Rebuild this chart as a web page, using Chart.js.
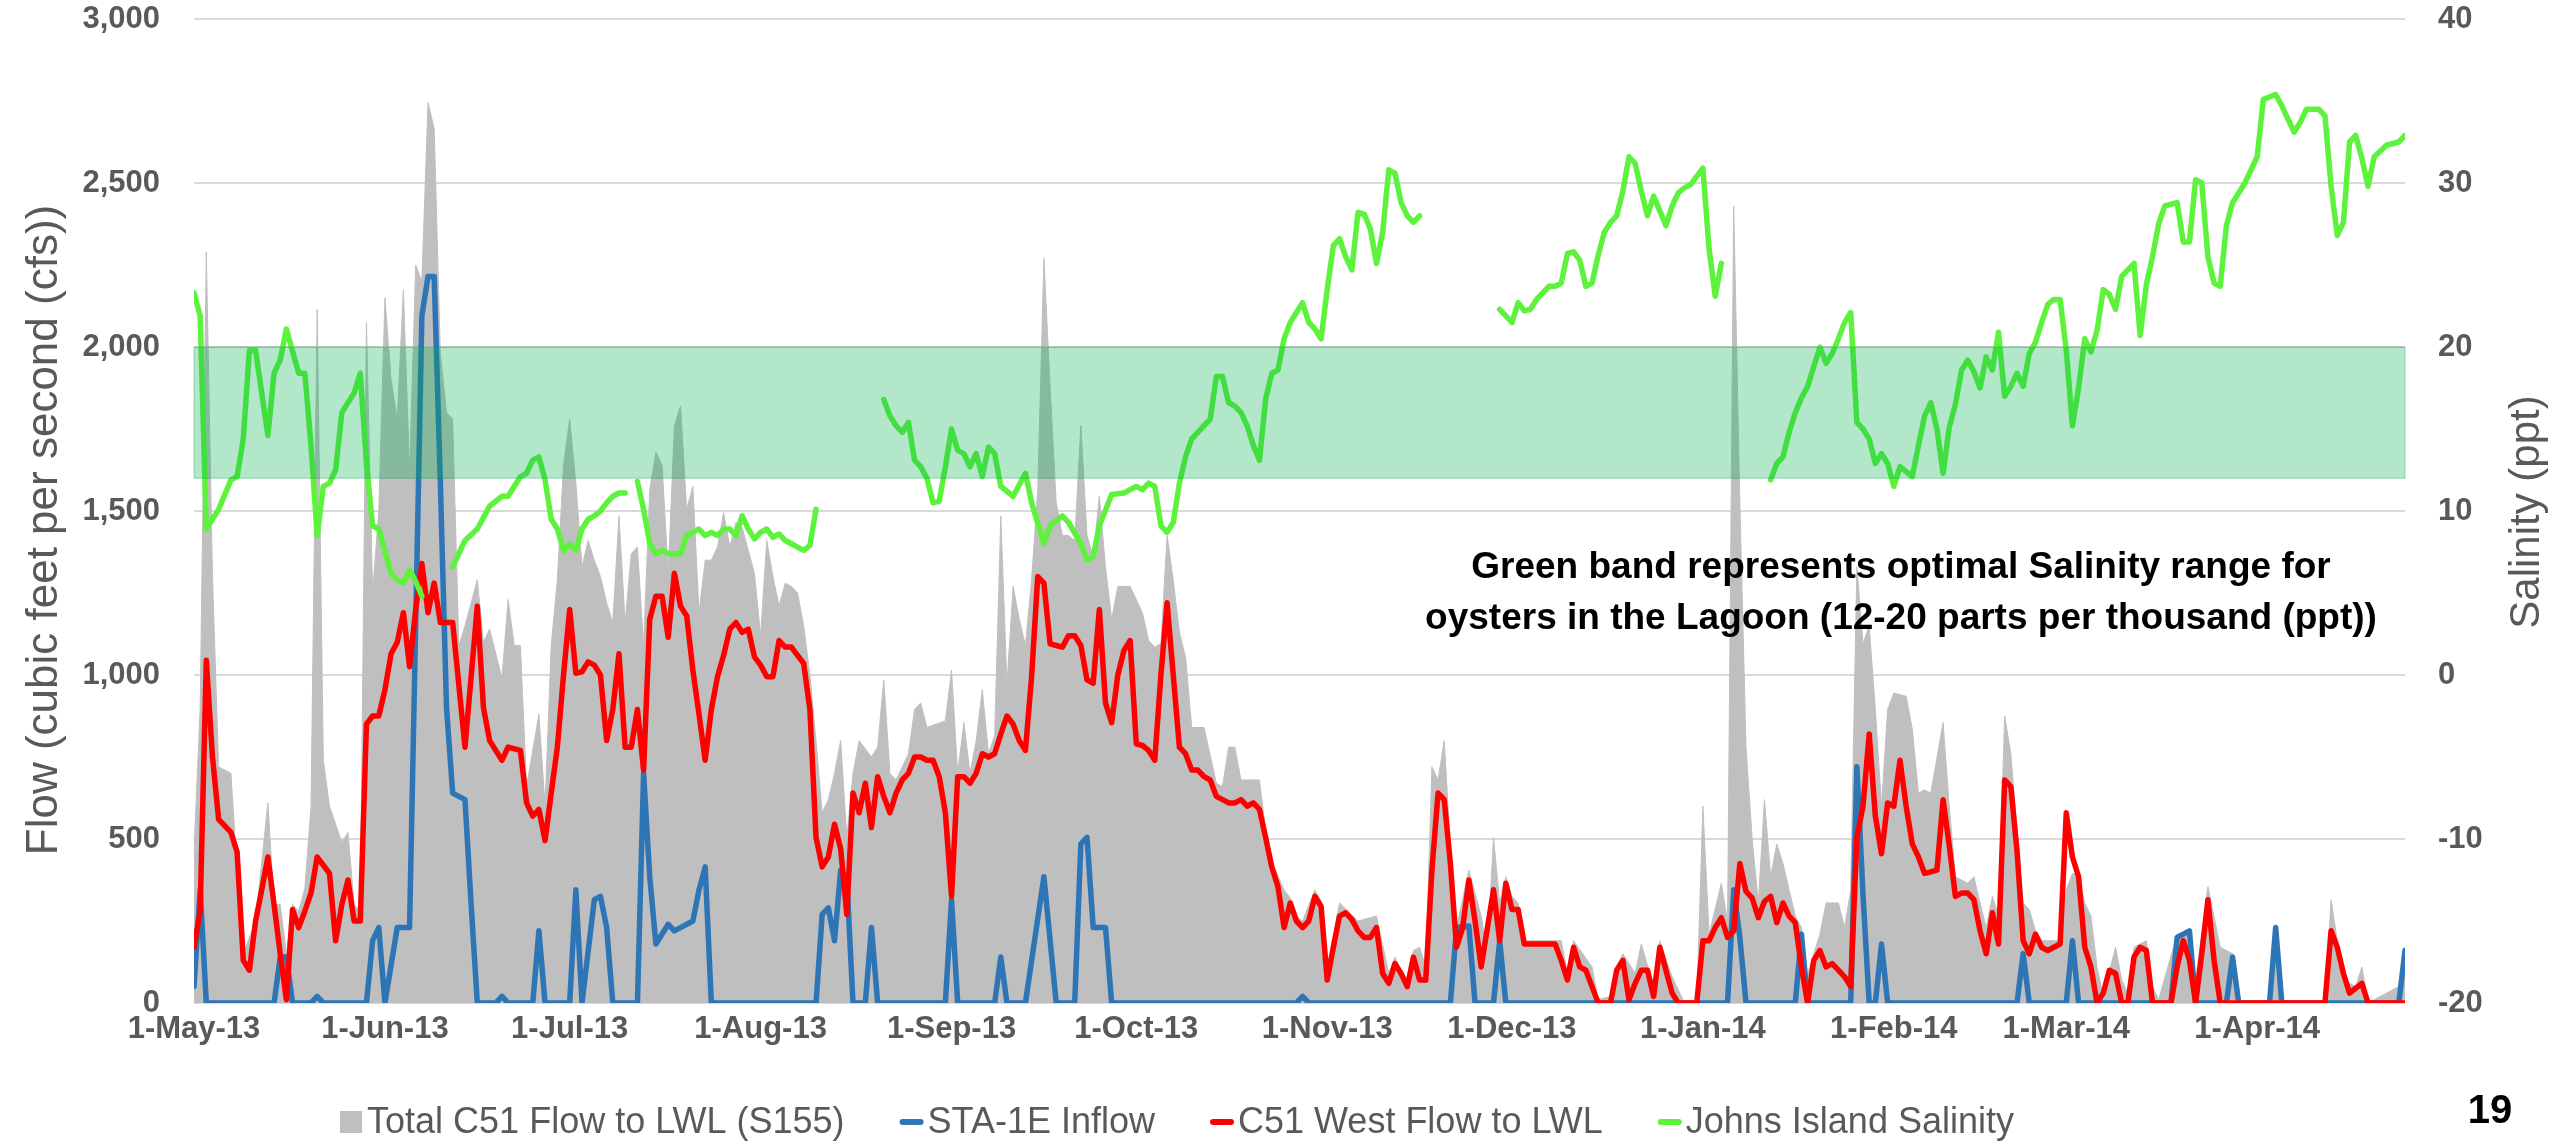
<!DOCTYPE html>
<html>
<head>
<meta charset="utf-8">
<script src="https://cdn.jsdelivr.net/npm/chart.js@4.4.1/dist/chart.umd.min.js"></script>
<style>
  html, body { margin: 0; padding: 0; background: #fff; }
  #wrap { width: 2554px; height: 1144px; }
</style>
</head>
<body>
<div id="wrap"><canvas id="chart" width="2554" height="1144"></canvas></div>
<script>
// day 0 = 1-May-2013
const monthDays = [0, 31, 61, 92, 123, 153, 184, 214, 245, 276, 304, 335];
const monthLabels = ['1-May-13', '1-Jun-13', '1-Jul-13', '1-Aug-13', '1-Sep-13', '1-Oct-13',
  '1-Nov-13', '1-Dec-13', '1-Jan-14', '1-Feb-14', '1-Mar-14', '1-Apr-14'];
const lastDay = 359;

// optimal oyster salinity (ppt)
const bandLow = 12;
const bandHigh = 20;

// [day, cfs]
const totalFlow = [[0,460],[1,900],[2,2290],[3,1300],[4,720],[6,700],[7,400],[8,150],[10,250],[12,610],[13,300],[14,300],[15,150],[16,300],[17,280],[18,350],[19,600],[20,2115],[21,740],[22,600],[24,490],[25,520],[26,300],[27,280],[28,2075],[29,1250],[30,1500],[31,2150],[32,1900],[33,1780],[34,2175],[35,1620],[36,2250],[37,2200],[38,2745],[39,2665],[40,1980],[41,1800],[42,1780],[43,1090],[44,1150],[46,1290],[47,1100],[48,1140],[50,990],[51,1230],[52,1090],[53,1090],[54,660],[56,880],[57,600],[58,1090],[59,1290],[60,1640],
  [61,1780],[62,1585],[63,1330],[64,1410],[65,1350],[66,1300],[67,1220],[68,1160],[69,1485],[70,1160],[71,1370],[72,1390],[73,1090],[74,1565],[75,1680],[76,1640],[77,1310],[78,1760],[79,1820],[80,1505],[81,1575],[82,1190],[83,1350],[84,1350],[85,1390],[86,1495],[87,1390],[88,1465],[89,1450],[90,1380],[91,1310],[92,1120],[93,1410],[94,1300],[95,1210],[96,1280],[97,1270],[98,1250],[99,1150],[100,1000],[101,800],[102,580],[103,620],[104,700],[105,800],[106,505],[107,700],[108,800],[110,750],[111,780],[112,985],[113,700],[114,680],[116,760],[117,895],[118,915],[119,840],
  [122,860],[123,1015],[124,700],[125,855],[126,700],[127,800],[128,955],[129,760],[130,815],[131,1485],[132,970],[133,1270],[134,1170],[135,1090],[136,1290],[137,1565],[138,2270],[139,1880],[140,1525],[141,1425],[142,1425],[143,1410],[144,1760],[145,1425],[146,1360],[147,1545],[148,1330],[149,1170],[150,1270],[152,1270],[154,1190],[155,1105],[156,1085],[157,1095],[158,1425],[159,1290],[160,1130],[161,1055],[162,840],[164,840],[166,670],[167,660],[168,780],[169,780],[170,680],[173,680],[174,525],[175,430],[177,345],[178,320],[179,265],[180,250],
  [182,345],[183,310],[184,110],[186,305],[189,250],[192,265],[194,90],[195,140],[197,60],[198,160],[199,170],[200,110],[201,720],[202,680],[203,800],[204,480],[205,230],[207,405],[209,265],[210,150],[211,505],[212,305],[213,385],[214,325],[215,305],[216,190],[222,190],[223,90],[224,190],[227,110],[228,10],[230,20],[231,110],[232,150],[234,90],[235,180],[237,50],[238,190],[240,80],[242,0],[244,0],
  [245,600],[246,210],[248,365],[249,245],[250,2430],[251,1525],[252,780],[253,500],[254,305],[255,620],[256,385],[257,485],[258,425],[259,345],[260,265],[261,230],[262,90],[264,210],[265,305],[267,305],[268,230],[269,345],[270,1330],[271,1095],[272,1150],[273,895],[274,600],[275,895],[276,945],[278,935],[279,835],[280,640],[281,650],[282,640],[284,855],[285,600],[286,385],[288,365],[289,385],[290,305],[291,230],[292,325],[293,265],[294,875],[295,760],[296,525],[297,305],[298,285],[299,220],[300,190],
  [303,190],[304,345],[305,395],[306,390],[307,305],[308,265],[309,110],[310,20],[312,170],[313,70],[314,30],[315,170],[317,190],[318,50],[319,10],[322,210],[324,220],[325,70],[327,355],[329,170],[331,150],[332,0],[337,0],[338,230],[339,0],[346,0],[347,315],[348,190],[349,70],[351,50],[352,110],[353,0],[358,50],[359,170]];

const sta1eFlow = [[0,50],[1,345],[2,0],[13,0],[14,140],[15,140],[16,0],[19,0],[20,20],[21,0],[28,0],[29,190],[30,230],[31,0],[33,230],[35,230],[37,2095],[38,2215],[39,2215],[40,1585],[41,900],[42,640],[44,620],[45,300],[46,0],[49,0],[50,20],[51,0],[55,0],[56,220],[57,0],
  [61,0],[62,345],[63,0],[65,315],[66,325],[67,230],[68,0],[72,0],[73,700],[74,385],[75,180],[77,240],[78,220],[79,230],[81,250],[82,345],[83,415],[84,0],[101,0],[102,270],[103,290],[104,190],[105,405],[106,380],[107,0],[109,0],[110,230],[111,0],
  [122,0],[123,315],[124,0],[130,0],[131,140],[132,0],[135,0],[138,385],[140,0],[143,0],[144,485],[145,505],[146,230],[148,230],[149,0],[179,0],[180,20],[181,0],
  [204,0],[205,230],[207,235],[208,0],[211,0],[212,190],[213,0],[249,0],[250,345],[251,200],[252,0],[260,0],[261,210],[262,0],[269,0],[270,720],[271,330],[272,0],[273,0],[274,180],[275,0],
  [296,0],[297,150],[298,0],[304,0],[305,190],[306,0],[321,0],[322,200],[324,220],[325,0],[330,0],[331,140],[332,0],[337,0],[338,230],[339,0],[358,0],[359,160]];

const westFlow = [[0,170],[1,280],[2,1045],[3,750],[4,560],[5,540],[6,520],[7,460],[8,130],[9,100],[10,250],[11,345],[12,445],[13,300],[14,150],[15,10],[16,285],[17,230],[18,280],[19,335],[20,445],[21,420],[22,395],[23,190],[24,300],[25,375],[26,250],[27,250],[28,850],[29,875],[30,875],[31,955],[32,1065],[33,1100],[34,1190],[35,1025],[36,1200],[37,1340],[38,1190],[39,1280],[40,1160],[42,1160],[44,780],[46,1210],[47,900],[48,800],[50,740],[51,780],[53,770],[54,610],[55,570],[56,590],[57,495],[58,640],[59,780],[60,1000],
  [61,1200],[62,1005],[63,1010],[64,1040],[65,1030],[66,1000],[67,800],[68,895],[69,1065],[70,780],[71,780],[72,895],[73,710],[74,1170],[75,1240],[76,1240],[77,1115],[78,1310],[79,1210],[80,1180],[81,1015],[82,880],[83,740],[84,895],[85,995],[86,1060],[87,1140],[88,1160],[89,1130],[90,1140],[91,1055],[92,1030],[93,995],[94,995],[95,1105],[96,1085],[97,1085],[98,1060],[99,1035],[100,895],[101,505],[102,415],[103,445],[104,545],[105,470],[106,270],[107,640],[108,580],[109,670],[110,535],[111,690],[112,630],[113,580],[114,640],[115,680],[116,700],[117,750],[118,750],[119,740],[120,740],
  [121,690],[122,580],[123,325],[124,690],[125,690],[126,670],[127,700],[128,760],[129,750],[130,760],[131,820],[132,875],[133,850],[134,800],[135,770],[136,995],[137,1300],[138,1280],[139,1095],[140,1090],[141,1085],[142,1120],[143,1120],[144,1090],[145,985],[146,975],[147,1200],[148,915],[149,855],[150,1000],[151,1075],[152,1105],[153,790],[154,785],[155,770],[156,740],[157,1000],[158,1220],[159,1000],[160,780],[161,760],[162,710],[163,710],[164,690],[165,680],[166,630],[167,620],[168,610],[169,610],[170,620],[171,600],[172,610],[173,590],[174,505],[175,415],[176,355],[177,230],[178,305],[179,250],[180,230],
  [181,250],[182,325],[183,295],[184,70],[185,170],[186,265],[187,275],[188,255],[189,220],[190,200],[191,200],[192,230],[193,90],[194,60],[195,120],[196,90],[197,50],[198,140],[199,70],[200,70],[201,405],[202,640],[203,620],[204,425],[205,170],[206,230],[207,375],[208,250],[209,110],[211,345],[212,190],[213,365],[214,285],[215,285],[216,180],[221,180],[222,130],[223,70],[224,170],[225,110],[226,100],[227,50],[228,0],[230,0],[231,100],[232,130],[233,10],[234,60],[235,100],[236,100],[237,20],[238,170],[239,100],[240,30],
  [241,0],[244,0],[245,190],[246,190],[247,230],[248,260],[249,200],[250,220],[251,425],[252,340],[253,320],[254,260],[255,310],[256,325],[257,245],[258,305],[259,265],[260,245],[261,110],[262,0],[263,130],[264,160],[265,110],[266,120],[267,100],[268,80],[269,50],[270,505],[271,600],[272,820],[273,570],[274,455],[275,610],[276,600],[277,740],[278,600],[279,485],[280,445],[281,395],[282,400],[283,405],[284,620],[285,480],[286,325],[287,335],[288,335],[289,315],[290,220],[291,150],[292,275],[293,180],[294,680],[295,660],[296,465],[297,190],[298,150],[299,210],[300,170],
  [301,160],[302,170],[303,180],[304,580],[305,445],[306,385],[307,170],[308,110],[309,0],[310,30],[311,100],[312,90],[313,0],[314,0],[315,140],[316,170],[317,160],[318,0],[321,0],[322,110],[323,190],[324,130],[325,0],[326,150],[327,315],[328,130],[329,0],[346,0],[347,220],[348,170],[349,90],[350,30],[352,60],[353,0],[359,0]];

// [day, ppt]; null = no record
const salinity = [[0,23.3],[1,21.9],[2,8.9],[4,10.1],[6,11.9],[7,12.1],[8,14.4],[9,19.8],[10,19.8],[12,14.6],[13,18.4],[14,19.2],[15,21.1],[17,18.4],[18,18.4],[19,14],[20,8.5],[21,11.5],[22,11.7],[23,12.5],[24,16],[25,16.6],[26,17.2],[27,18.4],[28,12.9],[29,9.1],[30,8.9],[32,6.2],[33,5.8],[34,5.6],[35,6.4],[36,5.7],[37,4.8],[38,null],[42,6.6],[44,8.2],[46,8.9],[48,10.3],[50,10.9],[51,10.9],[53,12.1],[54,12.3],[55,13.1],[56,13.3],[57,11.9],[58,9.5],[59,8.9],[60,7.6],
  [61,8.0],[62,7.6],[63,8.9],[64,9.5],[65,9.7],[66,10],[67,10.5],[68,10.9],[69,11.1],[70,11.1],[71,null],[72,11.8],[73,10.1],[74,8.0],[75,7.4],[76,7.6],[77,7.4],[78,7.4],[79,7.4],[80,8.5],[81,8.7],[82,8.9],[83,8.5],[84,8.7],[85,8.5],[86,8.9],[87,8.9],[88,8.5],[89,9.7],[90,8.9],[91,8.3],[92,8.7],[93,8.9],[94,8.4],[95,8.6],[96,8.2],[97,8.0],[98,7.8],[99,7.6],[100,7.9],[101,10.1],[102,null],
  [112,16.8],[113,15.8],[114,15.2],[115,14.8],[116,15.4],[117,13.1],[118,12.7],[119,12.0],[120,10.5],[121,10.6],[122,12.7],[123,15],[124,13.7],[125,13.5],[126,12.7],[127,13.5],[128,12.1],[129,13.9],[130,13.5],[131,11.5],[133,10.9],[135,12.3],[136,10.5],[138,8],[139,9.1],[141,9.7],[142,9.3],[144,8],[145,7],[146,7.2],[147,9.1],[149,11],[151,11.1],[152,11.3],[153,11.5],[154,11.3],[155,11.7],[156,11.5],[157,9.1],[158,8.7],[159,9.3],[160,11.7],[161,13.3],[162,14.4],[163,14.8],[164,15.2],[165,15.6],[166,18.2],[167,18.2],[168,16.6],[169,16.4],[170,16],[171,15.2],[172,14],[173,13.1],[174,16.8],[175,18.4],[176,18.6],[177,20.5],[178,21.5],[179,22.1],[180,22.7],
  [181,21.5],[182,21.1],[183,20.5],[184,23.5],[185,26.2],[186,26.6],[187,25.5],[188,24.7],[189,28.2],[190,28.1],[191,27.2],[192,25.1],[193,27],[194,30.8],[195,30.6],[196,28.8],[197,28],[198,27.6],[199,28],[200,null],
  [212,22.3],[214,21.5],[215,22.7],[216,22.2],[217,22.3],[218,22.9],[220,23.7],[221,23.7],[222,23.9],[223,25.7],[224,25.8],[225,25.3],[226,23.7],[227,23.9],[228,25.6],[229,27],[230,27.6],[231,28],[232,29.5],[233,31.6],[234,31.2],[235,29.5],[236,28],[237,29.2],[238,28.3],[239,27.4],[240,28.6],[241,29.4],[242,29.7],[243,29.9],[244,30.4],[245,30.9],[246,26],[247,23.1],[248,25.1],[249,null],
  [256,11.9],[257,12.9],[258,13.3],[259,14.8],[260,16],[261,16.9],[262,17.6],[263,18.8],[264,20],[265,19],[266,19.6],[267,20.5],[268,21.5],[269,22.1],[270,15.4],[271,15],[272,14.4],[273,12.9],[274,13.5],[275,12.9],[276,11.5],[277,12.7],[278,12.4],[279,12.1],[280,14],[281,15.8],[282,16.6],[283,15],[284,12.3],[285,15.1],[286,16.5],[287,18.6],[288,19.2],[289,18.5],[290,17.5],[291,19.4],[292,18.6],[293,20.9],[294,17],[295,17.6],[296,18.4],[297,17.6],[298,19.6],[299,20.3],[300,21.5],
  [301,22.6],[302,22.9],[303,22.9],[304,19.8],[305,15.2],[306,17.5],[307,20.5],[308,19.7],[309,21],[310,23.5],[311,23.2],[312,22.3],[313,24.3],[314,24.7],[315,25.1],[316,20.7],[317,23.8],[318,25.5],[319,27.5],[320,28.6],[322,28.8],[323,26.4],[324,26.4],[325,30.2],[326,30],[327,25.5],[328,23.9],[329,23.7],[330,27.4],[331,28.8],[333,30],[335,31.6],[336,35.1],[338,35.4],[339,34.7],[341,33.1],[342,33.7],[343,34.5],[345,34.5],[346,34.1],[347,29.8],[348,26.8],[349,27.6],[350,32.5],[351,32.9],[352,31.5],[353,29.8],[354,31.6],[356,32.3],[358,32.5],[359,32.9]];

const toPoints = (arr) => arr.map(([x, y]) => ({ x, y }));

const FONT = "'Liberation Sans', Arial, sans-serif";
const GREY_TEXT = '#595959';

const seriesStyle = [
  { label: 'Total C51 Flow to LWL (S155)', color: '#bfbfbf', box: true },
  { label: 'STA-1E Inflow', color: '#2e75b6' },
  { label: 'C51 West Flow to LWL', color: '#ff0000' },
  { label: 'Johns Island Salinity', color: '#5df23b' },
];

// tick label padding would otherwise shrink the plot
const noScalePadding = (s) => {
  s.paddingTop = 0;
  s.paddingBottom = 0;
  s.paddingLeft = 0;
  s.paddingRight = 0;
};

const bandPlugin = {
  id: 'band',
  afterDatasetsDraw(chart) {
    const { ctx, chartArea } = chart;
    const y2 = chart.scales.y2;
    const top = y2.getPixelForValue(bandHigh);
    const bot = y2.getPixelForValue(bandLow);
    ctx.save();
    ctx.fillStyle = 'rgba(0,176,80,0.3)';
    ctx.fillRect(chartArea.left, top, chartArea.right - chartArea.left, bot - top);
    ctx.strokeStyle = 'rgba(0,150,70,0.35)';
    ctx.lineWidth = 1;
    ctx.strokeRect(chartArea.left, top, chartArea.right - chartArea.left, bot - top);
    ctx.restore();
  },
};

const textPlugin = {
  id: 'texts',
  afterDraw(chart) {
    const { ctx } = chart;
    ctx.save();
    // axis titles
    ctx.fillStyle = GREY_TEXT;
    ctx.textAlign = 'center';
    ctx.textBaseline = 'middle';
    ctx.font = `44px ${FONT}`;
    ctx.save();
    ctx.translate(45, 530);
    ctx.rotate(-Math.PI / 2);
    ctx.fillText('Flow (cubic feet per second (cfs))', 0, 0);
    ctx.restore();
    ctx.font = `42px ${FONT}`;
    ctx.save();
    ctx.translate(2527, 512);
    ctx.rotate(-Math.PI / 2);
    ctx.fillText('Salinity (ppt)', 0, 0);
    ctx.restore();

    // note
    ctx.fillStyle = '#000';
    ctx.font = `bold 37px ${FONT}`;
    ctx.fillText('Green band represents optimal Salinity range for', 1901, 568);
    ctx.fillText('oysters in the Lagoon (12-20 parts per thousand (ppt))', 1901, 619);

    // page number
    ctx.font = `bold 40px ${FONT}`;
    ctx.fillText('19', 2490, 1112);

    // legend
    ctx.font = `36px ${FONT}`;
    ctx.textAlign = 'left';
    const gap = 56, sym = 22, symGap = 5;
    const widths = seriesStyle.map(s => sym + symGap + ctx.measureText(s.label).width);
    const total = widths.reduce((a, b) => a + b, 0) + gap * (widths.length - 1);
    let x = 1177 - total / 2;
    const ly = 1122;
    seriesStyle.forEach((s, i) => {
      if (s.box) {
        ctx.fillStyle = s.color;
        ctx.fillRect(x, ly - 11, sym, sym);
      } else {
        ctx.strokeStyle = s.color;
        ctx.lineWidth = 6;
        ctx.lineCap = 'round';
        ctx.beginPath();
        ctx.moveTo(x + 2, ly);
        ctx.lineTo(x + sym - 2, ly);
        ctx.stroke();
      }
      ctx.fillStyle = GREY_TEXT;
      ctx.fillText(s.label, x + sym + symGap, ly + 1);
      x += widths[i] + gap;
    });
    ctx.restore();
  },
};

const lineDefaults = {
  type: 'line',
  pointRadius: 0,
  tension: 0,
  borderWidth: 5.5,
  borderJoinStyle: 'round',
  borderCapStyle: 'round',
  fill: false,
  spanGaps: false,
};

new Chart(document.getElementById('chart'), {
  type: 'line',
  data: {
    datasets: [
      { ...lineDefaults, label: seriesStyle[0].label, data: toPoints(totalFlow), yAxisID: 'y',
        fill: 'origin', backgroundColor: '#bfbfbf', borderColor: '#bfbfbf', borderWidth: 1, order: 4 },
      { ...lineDefaults, label: seriesStyle[1].label, data: toPoints(sta1eFlow), yAxisID: 'y',
        borderColor: seriesStyle[1].color, order: 3 },
      { ...lineDefaults, label: seriesStyle[2].label, data: toPoints(westFlow), yAxisID: 'y',
        borderColor: seriesStyle[2].color, order: 2 },
      { ...lineDefaults, label: seriesStyle[3].label, data: toPoints(salinity), yAxisID: 'y2',
        borderColor: seriesStyle[3].color, order: 1 },
    ],
  },
  options: {
    responsive: false,
    animation: false,
    devicePixelRatio: 1,
    layout: { autoPadding: false, padding: { top: 19, left: 0, right: 0, bottom: 0 } },
    plugins: {
      legend: { display: false },
      tooltip: { enabled: false },
    },
    scales: {
      x: {
        type: 'linear',
        min: 0,
        max: lastDay,
        grid: { display: false, drawTicks: false },
        border: { display: false },
        afterBuildTicks: (s) => { s.ticks = monthDays.map(v => ({ value: v })); },
        afterFit: (s) => { s.height = 141; noScalePadding(s); },
        ticks: {
          autoSkip: false,
          maxRotation: 0,
          padding: 8,
          color: GREY_TEXT,
          font: { family: FONT, size: 31, weight: 'bold' },
          callback: (v) => monthLabels[monthDays.indexOf(v)] ?? '',
        },
      },
      y: {
        position: 'left',
        min: 0,
        max: 3000,
        afterFit: (s) => { s.width = 194; noScalePadding(s); },
        grid: { color: '#d9d9d9', lineWidth: 2, drawTicks: false },
        border: { display: false },
        ticks: {
          stepSize: 500,
          padding: 34,
          color: GREY_TEXT,
          font: { family: FONT, size: 31, weight: 'bold' },
          callback: (v) => v.toLocaleString('en-US'),
        },
      },
      y2: {
        position: 'right',
        min: -20,
        max: 40,
        afterFit: (s) => { s.width = 149; noScalePadding(s); },
        grid: { display: false, drawTicks: false },
        border: { display: false },
        ticks: {
          stepSize: 10,
          padding: 33,
          color: GREY_TEXT,
          font: { family: FONT, size: 31, weight: 'bold' },
        },
      },
    },
  },
  plugins: [bandPlugin, textPlugin],
});
</script>
</body>
</html>
